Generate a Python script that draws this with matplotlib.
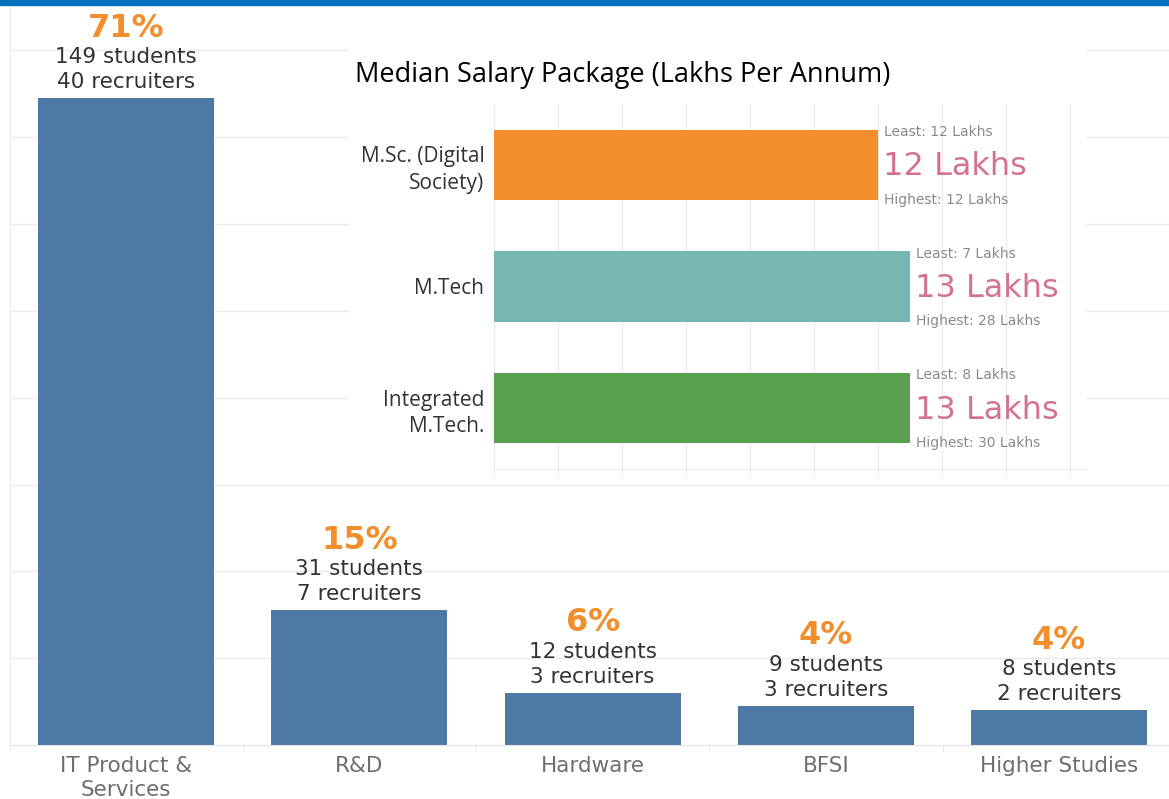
import numpy as np
import matplotlib.pyplot as plt
from matplotlib.patches import Rectangle

# placement by sector
sectors = ["IT Product &\nServices", "R&D", "Hardware", "BFSI", "Higher Studies"]
students = [149, 31, 12, 9, 8]
recruiters = [40, 7, 3, 3, 2]

# median salary by programme (lakhs per annum)
programmes = ["M.Sc. (Digital\nSociety)", "M.Tech", "Integrated\nM.Tech."]
median_pkg = [12, 13, 13]
least_pkg = [12, 7, 8]
highest_pkg = [12, 28, 30]
prog_colors = ["#F28E2B", "#76B7B2", "#59A14F"]

W, H = 1169, 799
fig = plt.figure(figsize=(W / 100, H / 100), dpi=100)
fig.patch.set_facecolor("white")

# blue strip along the top
fig.add_artist(Rectangle((0, 1 - 5 / H), 1, 5 / H, transform=fig.transFigure,
                         color="#0072BC", zorder=3))

# ---- main bar chart ----
ax = fig.add_axes([9.5 / W, (H - 745) / H, (W - 9.5) / W, 738 / H])
x = np.arange(len(sectors))
ax.bar(x, students, width=0.755, color="#4E79A7", zorder=2)
ax.set_yticks(range(20, 170, 20))
ax.yaxis.grid(True, color="#EBEBEB", lw=1, zorder=0)
ax.tick_params(axis="y", length=0, labelleft=False)
for s in ["top", "right"]:
    ax.spines[s].set_visible(False)
ax.spines["left"].set_color("#EBEBEB")
ax.spines["bottom"].set_color("#E3E3E3")
ax.set_xticks(x)
ax.set_xticklabels(sectors, fontsize=15.5, color="#6E6E6E", linespacing=1.25)
ax.tick_params(axis="x", length=0, pad=8)
ax.set_xticks(np.arange(-0.5, len(sectors) - 1, 1), minor=True)
ax.tick_params(axis="x", which="minor", length=5, color="#E3E3E3")
ax.set_xlim(-0.5, -0.5 + (W - 9.5) / 233.25)
ax.set_ylim(0, 170)

total = sum(students)
for i in range(len(sectors)):
    pct = round(100 * students[i] / total)
    ax.annotate(f"{recruiters[i]} recruiters", (x[i], students[i]), xytext=(0, 16),
                textcoords="offset pixels", ha="center", va="center",
                fontsize=15.5, color="#333333")
    ax.annotate(f"{students[i]} students", (x[i], students[i]), xytext=(0, 41),
                textcoords="offset pixels", ha="center", va="center",
                fontsize=15.5, color="#333333")
    ax.annotate(f"{pct}%", (x[i], students[i]), xytext=(0, 70),
                textcoords="offset pixels", ha="center", va="center",
                fontsize=23, fontweight="bold", color="#F28E2B")

# white panel behind the salary chart
fig.add_artist(Rectangle((349 / W, 1 - 479 / H), (1085 - 349) / W, (479 - 38) / H,
                         transform=fig.transFigure, color="white", zorder=1))

# ---- salary inset ----
ax2 = fig.add_axes([494 / W, 1 - 469 / H, (1086 - 494) / W, (469 - 104) / H], zorder=2)
y = np.arange(len(programmes))
ax2.barh(y, median_pkg, height=0.58, color=prog_colors, zorder=2)
ax2.set_xticks(range(0, 19, 2))
ax2.set_xlim(0, 18.5)
ax2.set_ylim(2.5, -0.5)
ax2.xaxis.grid(True, color="#EBEBEB", lw=1, zorder=0)
ax2.tick_params(axis="x", length=6, color="#EBEBEB", labelbottom=False)
ax2.set_yticks(y)
ax2.set_yticklabels(programmes, fontsize=15, color="#333333",
                    family="Open Sans", linespacing=1.35)
ax2.tick_params(axis="y", length=0, pad=7)
for s in ["top", "right", "left"]:
    ax2.spines[s].set_visible(False)
ax2.spines["bottom"].set_color("#EBEBEB")

for i in range(len(programmes)):
    ax2.annotate(f"Least: {least_pkg[i]} Lakhs", (median_pkg[i], y[i]), xytext=(6, 33),
                 textcoords="offset pixels", ha="left", va="center",
                 fontsize=10, color="#8A8A8A")
    ax2.annotate(f"{median_pkg[i]} Lakhs", (median_pkg[i], y[i]), xytext=(5, -2),
                 textcoords="offset pixels", ha="left", va="center",
                 fontsize=23, color="#D37295")
    ax2.annotate(f"Highest: {highest_pkg[i]} Lakhs", (median_pkg[i], y[i]), xytext=(6, -35),
                 textcoords="offset pixels", ha="left", va="center",
                 fontsize=10, color="#8A8A8A")

fig.text(355 / W, 1 - 75 / H, "Median Salary Package (Lakhs Per Annum)",
         fontsize=19.5, family="Open Sans", color="black", va="center", ha="left",
         zorder=4)

fig.savefig("out.png", dpi=100)
